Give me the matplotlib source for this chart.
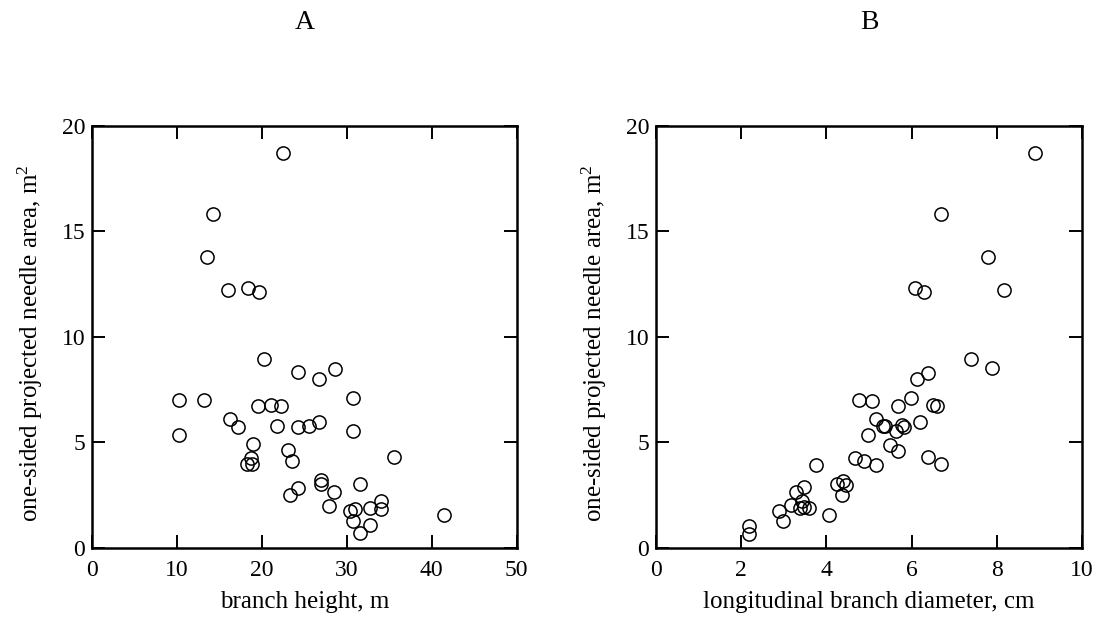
import matplotlib
matplotlib.use("Agg")
import matplotlib.pyplot as plt

plt.rcParams['font.family'] = ['Liberation Serif', 'DejaVu Serif']
plt.rcParams['mathtext.fontset'] = 'custom'
plt.rcParams['mathtext.rm'] = 'Liberation Serif'
plt.rcParams['mathtext.it'] = 'Liberation Serif:italic'

# Panel A: branch height (m) vs one-sided projected needle area (m^2)
height_A = [22.5, 14.2, 13.5, 16.0, 18.4, 19.7, 20.3, 24.3, 26.7, 28.6,
            10.2, 13.2, 19.6, 21.1, 22.2, 30.7, 16.3, 17.2, 21.8, 24.2,
            25.6, 26.7, 30.7, 10.2, 19.0, 23.1, 23.6, 35.6, 18.2, 18.8,
            18.7, 24.3, 23.3, 27.0, 27.0, 28.5, 31.6, 27.95, 30.4, 31.0,
            32.7, 34.0, 34.0, 41.4, 30.7, 32.7, 31.6]
area_A = [18.7, 15.8, 13.8, 12.2, 12.3, 12.1, 8.94, 8.31, 8.0, 8.48,
          6.98, 6.98, 6.70, 6.75, 6.70, 7.08, 6.11, 5.72, 5.78, 5.70,
          5.78, 5.95, 5.52, 5.36, 4.90, 4.61, 4.12, 4.30, 3.95, 3.95,
          4.25, 2.83, 2.48, 3.22, 3.02, 2.62, 3.03, 2.0, 1.75, 1.85,
          1.9, 2.19, 1.85, 1.53, 1.25, 1.06, 0.70]

# Panel B: longitudinal branch diameter (cm) vs needle area (m^2)
diameter_B = [8.90, 6.69, 7.79, 6.09, 6.29, 8.18, 7.39, 7.89, 6.38, 6.13,
              4.77, 5.07, 5.68, 5.98, 6.50, 6.59, 5.17, 5.33, 5.38, 5.78,
              5.81, 5.64, 6.19, 4.98, 5.49, 5.68, 4.67, 4.88, 5.17, 6.38,
              6.69, 3.75, 4.38, 4.26, 4.47, 4.37, 4.07, 3.47, 3.28, 3.16,
              3.43, 3.38, 3.47, 3.59, 2.88, 2.98, 2.19, 2.19]
area_B = [18.7, 15.8, 13.8, 12.3, 12.1, 12.2, 8.96, 8.50, 8.29, 8.0,
          6.98, 6.93, 6.70, 7.08, 6.77, 6.70, 6.10, 5.75, 5.75, 5.83,
          5.72, 5.51, 5.96, 5.32, 4.88, 4.60, 4.24, 4.13, 3.90, 4.29,
          3.98, 3.90, 3.18, 3.02, 2.99, 2.48, 1.55, 2.86, 2.62, 2.04,
          2.19, 1.88, 1.93, 1.88, 1.72, 1.25, 1.01, 0.65]

x_ticks_A = [0, 10, 20, 30, 40, 50]
x_ticks_B = [0, 2, 4, 6, 8, 10]
y_ticks = [0, 5, 10, 15, 20]

W, H = 1099, 617
fig = plt.figure(figsize=(W / 100, H / 100), dpi=100)

ax_top, ax_bot = 125.7, 547.7
axA = fig.add_axes([92 / W, (H - ax_bot) / H, (516.7 - 92) / W, (ax_bot - ax_top) / H])
axB = fig.add_axes([656 / W, (H - ax_bot) / H, (1082 - 656) / W, (ax_bot - ax_top) / H])

panels = [
    (axA, height_A, area_A, x_ticks_A, (0, 50), 'branch height, m', 'A'),
    (axB, diameter_B, area_B, x_ticks_B, (0, 10), 'longitudinal branch diameter, cm', 'B'),
]

for ax, xs, ys, xt, xlim, xlabel, title in panels:
    ax.plot(xs, ys, linestyle='none', marker='o', markersize=9.5,
            markerfacecolor='none', markeredgecolor='black', markeredgewidth=1.1)
    ax.set_xlim(*xlim)
    ax.set_ylim(0, 20)
    ax.set_xticks(xt)
    ax.set_yticks(y_ticks)
    ax.tick_params(direction='in', top=True, right=True, length=9.5, width=1.4,
                   labelsize=17)
    ax.tick_params(axis='x', pad=9)
    ax.tick_params(axis='y', pad=5)
    for sp in ax.spines.values():
        sp.set_linewidth(1.8)
    ax.set_xlabel(xlabel, fontsize=18)
    ax.xaxis.set_label_coords(0.5, -0.128)
    ax.xaxis.label.set_verticalalignment('center')
    ax.set_ylabel(r'one-sided projected needle area, m$^2$', fontsize=18)
    ax.yaxis.set_label_coords(-0.11, 0.485)
    ax.text(0.5, 1 + 103 / 422, title, transform=ax.transAxes,
            ha='center', va='center', fontsize=20)

fig.savefig('out.png', dpi=100)
